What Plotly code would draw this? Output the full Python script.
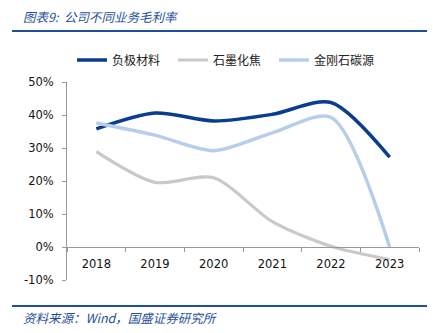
import plotly.graph_objects as go

years = ["2018", "2019", "2020", "2021", "2022", "2023"]
anode = [35.8, 40.6, 38.2, 40.2, 43.8, 27.2]
graphitized_coke = [28.9, 19.6, 21.0, 7.7, 0.2, -3.8]
diamond_carbon = [37.6, 33.9, 29.2, 34.6, 39.3, 0.0]

y_ticks = [-10, 0, 10, 20, 30, 40, 50]
y_labels = ["-10%", "0%", "10%", "20%", "30%", "40%", "50%"]

series = [
    ("负极材料", anode, "#0a3d91", 3.5),
    ("石墨化焦", graphitized_coke, "#c9c9c9", 3.2),
    ("金刚石碳源", diamond_carbon, "#b8cdea", 3.5),
]

cjk = "Noto Sans CJK SC"
num_font = "DejaVu Sans"
blue = "#1f4f9c"

fig = go.Figure()
for name, vals, color, w in series:
    fig.add_trace(go.Scatter(
        x=years, y=vals, name=name, mode="lines",
        line=dict(color=color, width=w, shape="spline", smoothing=0.8),
    ))

fig.update_layout(
    width=433, height=333,
    margin=dict(l=67, r=14, t=82, b=53, autoexpand=False),
    paper_bgcolor="white", plot_bgcolor="white",
    showlegend=True,
    legend=dict(
        orientation="h", x=(72 - 67) / 352, xanchor="left", xref="paper",
        y=1 - 60 / 333, yanchor="middle", yref="container",
        font=dict(family=cjk, size=12, color="#222"),
        entrywidth=56, entrywidthmode="pixels",
        itemwidth=30, tracegroupgap=0,
    ),
    xaxis=dict(
        type="category", tickson="boundaries",
        anchor="free", position=1/6,
        showline=True, linecolor="#999999", linewidth=1,
        ticks="outside", ticklen=4, tickcolor="#999999",
        ticklabelstandoff=6,
        showgrid=False, zeroline=False,
        tickfont=dict(family=num_font, size=11.5, color="#111"),
        range=[-0.5, 5.5],
    ),
    yaxis=dict(
        range=[-10, 50], tickvals=y_ticks, ticktext=y_labels,
        showline=True, linecolor="#999999", linewidth=1,
        ticks="outside", ticklen=4, tickcolor="#999999",
        ticklabelstandoff=6,
        showgrid=False, zeroline=False,
        tickfont=dict(family=num_font, size=11.5, color="#111"),
    ),
)

# header title and rule
fig.add_annotation(
    text="<i>图表9:  公司不同业务毛利率</i>", xref="paper", yref="paper",
    x=-46 / 352, y=1 + (82 - 16) / 198, xanchor="left", yanchor="middle",
    showarrow=False, font=dict(family=cjk, size=12.5, color=blue),
)
fig.add_shape(type="line", xref="paper", yref="paper",
              x0=-55 / 352, x1=(427 - 67) / 352,
              y0=1 + (82 - 31) / 198, y1=1 + (82 - 31) / 198,
              line=dict(color=blue, width=2))

# footer rule and source
fig.add_shape(type="line", xref="paper", yref="paper",
              x0=-55 / 352, x1=(427 - 67) / 352,
              y0=-(306 - 280) / 198, y1=-(306 - 280) / 198,
              line=dict(color=blue, width=2))
fig.add_annotation(
    text="<i>资料来源：Wind，国盛证券研究所</i>", xref="paper", yref="paper",
    x=-46 / 352, y=-(317 - 280) / 198, xanchor="left", yanchor="middle",
    showarrow=False, font=dict(family=cjk, size=12.5, color=blue),
)

fig.write_html("out.html")
